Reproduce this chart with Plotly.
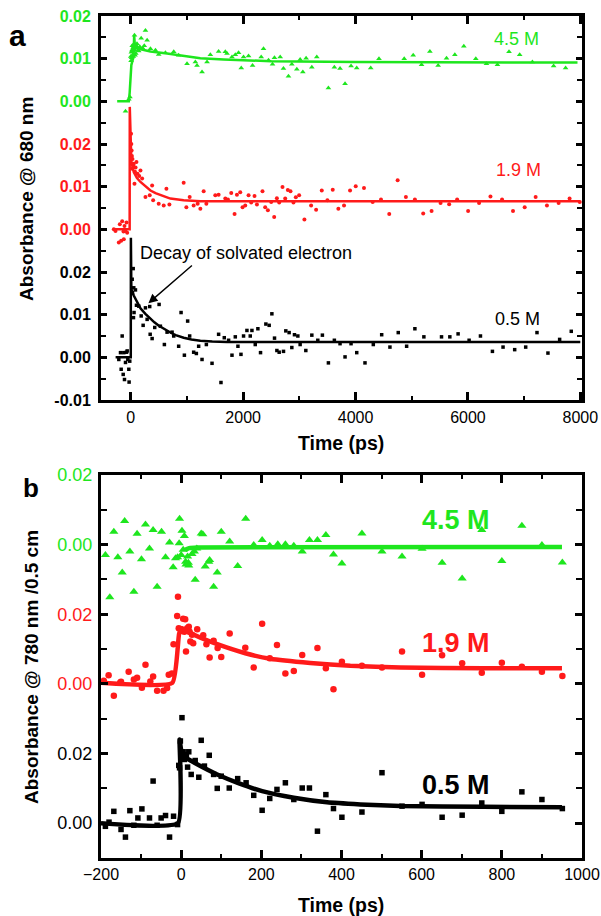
import plotly.graph_objects as go

GREEN = "#1ee61e"
RED = "#ff1a1a"
BLACK = "#000000"

# ---------------- Panel a (680 nm) ----------------
# stacking offsets of the three traces on the shared axis
A_OFF_BLACK, A_OFF_RED, A_OFF_GREEN = 0.0, 0.03, 0.06

a_green_x = [-94, -35, -15, 0, 10, 20, 30, 40, 50, 60, 66, 70, 80, 90, 100, 120, 140, 185, 261, 291,
             350, 439, 497, 616, 764, 852, 1001, 1149, 1179, 1268, 1357, 1416, 1563, 1682, 1712, 1801,
             1860, 1918, 1966, 2007, 2096, 2167, 2321, 2362, 2451, 2522, 2557, 2659, 2717, 2806, 2866,
             2955, 3014, 3062, 3120, 3222, 3310, 3517, 3623, 3724, 3813, 3920, 4021, 4270, 4417, 4866,
             5026, 5175, 5323, 5470, 5619, 5767, 5927, 6140, 6330, 6525, 6731, 6921, 7147, 7525, 7738,
             5, 15, 25, 35, 45, 55, 75, 110, 130, 160, 210, 240]
a_green_y = [-0.0023, 0.0005, 0.0010, 0.0105, 0.0115, 0.0120, 0.0108, 0.0125, 0.0110, 0.0135, 0.0155,
             0.0120, 0.0128, 0.0112, 0.0130, 0.0125, 0.0118, 0.0148, 0.0166, 0.0143, 0.0123, 0.0120,
             0.0110, 0.0114, 0.0116, 0.0108, 0.0088, 0.0092, 0.0084, 0.0069, 0.0092, 0.0109, 0.0117,
             0.0116, 0.0112, 0.0104, 0.0109, 0.0114, 0.0078, 0.0104, 0.0106, 0.0084, 0.0104, 0.0123,
             0.0096, 0.0087, 0.0102, 0.0104, 0.0077, 0.0059, 0.0087, 0.0075, 0.0098, 0.0069, 0.0101,
             0.0080, 0.0104, 0.0031, 0.0080, 0.0077, 0.0041, 0.0083, 0.0078, 0.0078, 0.0100, 0.0100,
             0.0108, 0.0086, 0.0117, 0.0084, 0.0101, 0.0109, 0.0129, 0.0100, 0.0088, 0.0086, 0.0116,
             0.0109, 0.0092, 0.0083, 0.0078,
             0.0095, 0.0102, 0.0130, 0.0118, 0.0105, 0.0128, 0.0108, 0.0135, 0.0120, 0.0128, 0.0125, 0.0130]

a_red_x = [-302, -272, -213, -195, -171, -153, -130, -124, -112, -94, -76, -64,
           5, 10, 15, 20, 25, 30, 40, 53, 66, 75, 85, 101, 120, 150, 172, 202, 261, 337, 380, 398,
           497, 586, 634, 687, 941, 989, 1048, 1119, 1190, 1238, 1297, 1345, 1504, 1563, 1682,
           1729, 1788, 1847, 1889, 1948, 1989, 2037, 2096, 2143, 2202, 2245, 2344, 2392, 2440, 2499,
           2552, 2600, 2641, 2700, 2748, 2795, 2842, 2895, 2937, 2996, 3090, 3209, 3298, 3399, 3499,
           3594, 3694, 3795, 3902, 4003, 4150, 4305, 4453, 4600, 4749, 4896, 5056, 5204, 5353, 5513,
           5666, 5808, 6003, 6198, 6401, 6607, 6802, 7010, 7205, 7406, 7614, 7809, 7990]
a_red_y = [0.0, -0.0004, -0.0031, 0.0012, -0.0027, 0.0019, -0.0005, -0.0023, 0.0008, -0.0004, 0.0016, -0.0008,
           0.0224, 0.0200, 0.0185, 0.0172, 0.0142, 0.0165, 0.0150, 0.0154, 0.0107, 0.0135, 0.0145, 0.0158,
           0.0130, 0.0125, 0.0138, 0.0119, 0.0076, 0.0080, 0.0103, 0.0068, 0.0060, 0.0056, 0.0095, 0.0058,
           0.0109, 0.0052, 0.0076, 0.0056, 0.0060, 0.0048, 0.0089, 0.0060, 0.0080, 0.0081, 0.0072,
           0.0070, 0.0085, 0.0036, 0.0081, 0.0087, 0.0052, 0.0056, 0.0080, 0.0063, 0.0078, 0.0058, 0.0089,
           0.0052, 0.0045, 0.0064, 0.0029, 0.0073, 0.0063, 0.0099, 0.0072, 0.0092, 0.0089, 0.0063, 0.0075,
           0.0080, 0.0023, 0.0056, 0.0046, 0.0091, 0.0068, 0.0093, 0.0048, 0.0056, 0.0091, 0.0101, 0.0097,
           0.0064, 0.0070, 0.0036, 0.0115, 0.0076, 0.0070, 0.0037, 0.0043, 0.0062, 0.0059, 0.0070, 0.0043,
           0.0062, 0.0077, 0.0070, 0.0043, 0.0052, 0.0076, 0.0056, 0.0062, 0.0072, 0.0064]

a_black_x = [-213, -183, -171, -153, -135, -124, -112, -94, -76, -64, -53, -35, -30, -18,
             25, 30, 43, 48, 53, 58, 83, 101, 142, 185, 220, 261, 291, 337, 345, 380, 426, 504, 527,
             598, 646, 735, 764, 852, 895, 954, 1012, 1048, 1119, 1167, 1208, 1268, 1345, 1446, 1563,
             1605, 1664, 1741, 1801, 1860, 1907, 1961, 2007, 2067, 2126, 2156, 2215, 2262, 2309, 2404,
             2463, 2511, 2558, 2600, 2641, 2718, 2759, 2818, 2866, 2913, 2973, 3014, 3115, 3222, 3328,
             3410, 3517, 3623, 3724, 3813, 3920, 4021, 4168, 4316, 4465, 4612, 4760, 4909, 5056, 5216,
             5530, 5678, 5825, 6021, 6223, 6436, 6625, 6832, 7028, 7229, 7424, 7632, 7839]
a_black_y = [-0.0005, 0.0011, -0.0028, 0.0050, -0.0040, 0.0011, -0.0052, -0.0012, 0.0012, 0.0015, -0.0005,
             -0.0028, -0.0058, -0.0009,
             0.0183, 0.0152, 0.0208, 0.0093, 0.0163, 0.0105, 0.0158, 0.0122, 0.0120, 0.0097, 0.0075,
             0.0116, 0.0089, 0.0119, 0.0054, 0.0044, 0.0070, 0.0124, 0.0073, 0.0030, 0.0059, 0.0059,
             0.0050, 0.0026, 0.0105, 0.0005, 0.0085, 0.0050, 0.0012, 0.0009, 0.0026, -0.0005, 0.0030,
             -0.0014, 0.0054, -0.0059, 0.0046, 0.0040, 0.0005, 0.0048, 0.0026, 0.0007, 0.0050, 0.0063,
             0.0050, 0.0063, 0.0030, 0.0067, 0.0011, 0.0078, 0.0075, 0.0102, 0.0045, 0.0016, 0.0012,
             0.0014, 0.0062, 0.0058, 0.0023, 0.0053, 0.0050, 0.0030, 0.0016, 0.0052, 0.0040, 0.0052,
             -0.0013, 0.0040, 0.0032, 0.0001, 0.0032, 0.0011, -0.0013, 0.0030, 0.0053, 0.0024, 0.0058,
             0.0026, 0.0067, 0.0048, 0.0048, 0.0048, 0.0055, 0.0040, 0.0050, 0.0014, 0.0024, 0.0018,
             0.0024, 0.0058, 0.0010, 0.0042, 0.0061]

# fitted curves
a_green_fit_x = [-242, -35, -20, 10, 50, 60, 75, 114, 350, 646, 941, 1238, 1652, 2500, 4000, 7950]
a_green_fit_y = [0, 0, 0.002, 0.0085, 0.0105, 0.0155, 0.0125, 0.0124, 0.0117, 0.0112, 0.0106, 0.0101,
                 0.0098, 0.0094, 0.0092, 0.0091]
a_red_fit_x = [-300, -20, -18, 0, 10, 53, 110, 172, 260, 350, 440, 527, 620, 705, 820, 941, 1238, 8000]
a_red_fit_y = [0, 0, 0.0287, 0.0175, 0.0160, 0.0134, 0.0120, 0.0111, 0.0100, 0.0091, 0.0085, 0.0080,
               0.0076, 0.0072, 0.0070, 0.0068, 0.0066, 0.0066]
a_black_fit_x = [-270, 0, 2, 10, 53, 110, 172, 260, 350, 420, 500, 570, 646, 720, 800, 941, 1080, 1238,
                 1450, 1712, 8000]
a_black_fit_y = [0, 0, 0.028, 0.016, 0.0145, 0.0130, 0.0115, 0.0102, 0.0090, 0.0082, 0.0074, 0.0068,
                 0.0062, 0.0057, 0.0052, 0.0046, 0.0042, 0.0039, 0.0037, 0.0036, 0.0036]

# ---------------- Panel b (780 nm) ----------------
B_OFF_BLACK, B_OFF_RED, B_OFF_GREEN = 0.0, 0.04, 0.08

b_green_x = [-189, -178, -168, -158, -147, -141, -128, -118, -110, -99, -89, -79, -70, -60, -49, -39, -29,
             -20, -14, -9, -5, -4, 0, 2, 5, 8, 11, 12, 16, 18, 19, 27, 33, 35, 39, 50, 54, 60, 69, 71, 81,
             90, 100, 121, 141, 161, 181, 202, 221, 241, 260, 281, 302, 320, 340, 361, 380, 401, 451, 501,
             551, 601, 651, 701, 750, 800, 850, 900, 951]
b_green_y = [-0.0030, -0.0151, 0.0037, -0.0036, -0.0080, 0.0068, -0.0020, -0.0135, 0.0031, -0.0042, 0.0058,
             -0.0011, 0.0042, -0.0121, 0.0037, -0.0036, 0.0006, -0.0065, -0.0039, -0.0036, 0.0004, 0.0074,
             -0.0030, 0.0040, -0.0015, 0.0025, -0.0049, -0.0057, -0.0034, -0.0052, -0.0060, -0.0027,
             -0.0020, -0.0101, -0.0011, 0.0032, 0.0030, -0.0063, -0.0049, -0.0044, -0.0121, -0.0080,
             0.0037, 0.0009, -0.0061, 0.0074, -0.0001, 0.0013, -0.0003, 0.0001, 0.0001, -0.0003, -0.0020,
             0.0013, 0.0013, 0.0028, -0.0028, -0.0054, 0.0032, -0.0020, -0.0034, -0.0012, -0.0052,
             -0.0097, 0.0042, -0.0047, 0.0054, -0.0001, -0.0051]

b_red_x = [-193, -181, -168, -152, -150, -131, -118, -110, -98, -89, -77, -70, -60, -44, -35, -31, -23, -19,
           -10, -8, -6, -2, 2, 5, 8, 10, 12, 15, 19, 21, 23, 27, 30, 40, 55, 63, 71, 81, 91, 100, 121, 160,
           181, 202, 221, 239, 260, 281, 302, 340, 361, 380, 401, 451, 501, 551, 601, 651, 701, 750, 800,
           850, 900, 951]
b_red_y = [0.0009, 0.0025, -0.0034, 0.0004, 0.0006, 0.0035, 0.0013, 0.0018, -0.0011, 0.0055, 0.0007, 0.0021,
           -0.0020, -0.0020, -0.0012, 0.0026, 0.0030, 0.0114, 0.0195, 0.0250, 0.0160, 0.0157, 0.0152, 0.0187,
           0.0150, 0.0186, 0.0093, 0.0160, 0.0164, 0.0150, 0.0122, 0.0141, 0.0117, 0.0157, 0.0140, 0.0114,
           0.0076, 0.0124, 0.0103, 0.0077, 0.0145, 0.0104, 0.0047, 0.0173, 0.0074, 0.0112, 0.0030, 0.0037,
           0.0083, 0.0103, 0.0045, -0.0015, 0.0064, 0.0052, 0.0047, 0.0093, 0.0026, 0.0082, 0.0059, 0.0032,
           0.0061, 0.0049, 0.0035, 0.0023]

b_black_x = [-189, -180, -168, -150, -139, -128, -118, -108, -98, -79, -70, -60, -50, -39, -29, -19, -9, -6,
             -4, -2, 0, 2, 5, 8, 13, 16, 19, 25, 35, 44, 50, 58, 70, 81, 90, 100, 120, 141, 162, 181, 202,
             221, 239, 260, 281, 302, 320, 340, 361, 380, 401, 451, 501, 551, 601, 651, 701, 750, 800, 850,
             900, 951]
b_black_y = [-0.0009, 0.0003, 0.0034, -0.0018, -0.0040, 0.0036, -0.0006, 0.0015, 0.0041, 0.0015, 0.0121,
             -0.0006, 0.0015, 0.0022, -0.0040, 0.0020, -0.0004, 0.0166, 0.0159, 0.0236, 0.0197, 0.0303,
             0.0205, 0.0183, 0.0197, 0.0161, 0.0205, 0.0140, 0.0180, 0.0132, 0.0238, 0.0164, 0.0195, 0.0140,
             0.0100, 0.0135, 0.0101, 0.0128, 0.0116, 0.0080, 0.0037, 0.0071, 0.0097, 0.0116, 0.0068, 0.0101,
             0.0101, -0.0023, 0.0082, 0.0042, 0.0017, 0.0032, 0.0145, 0.0049, 0.0054, 0.0017, 0.0023, 0.0058,
             0.0034, 0.0090, 0.0068, 0.0042]

b_green_fit_x = [10, 20, 40, 950]
b_green_fit_y = [-0.0015, -0.0010, -0.0008, -0.0007]
b_red_fit_x = [-200, -22, -5, 3, 10, 48, 90, 160, 222, 322, 422, 547, 754, 950]
b_red_fit_y = [0.0003, 0.0003, 0.0145, 0.0160, 0.0153, 0.0133, 0.0114, 0.0088, 0.0072, 0.0060, 0.0052,
               0.0047, 0.0045, 0.0045]
b_black_fit_x = [-200, -8, -4, 0, 6, 48, 90, 141, 202, 281, 364, 447, 547, 754, 950]
b_black_fit_y = [0.0, 0.0, 0.024, 0.021, 0.0193, 0.0164, 0.0140, 0.0116, 0.0092, 0.0073, 0.0060, 0.0054,
                 0.0049, 0.0047, 0.0046]

# tick labels
a_tickvals = [-0.01, 0.0, 0.01, 0.02, 0.03, 0.04, 0.05, 0.06, 0.07, 0.08]
a_ticklabels = ["-0.01", "0.00", "0.01", "0.02", "0.00", "0.01", "0.02", "0.00", "0.01", "0.02"]
a_tickcolors = [BLACK] * 4 + [RED] * 3 + [GREEN] * 3
b_tickvals = [0.0, 0.02, 0.04, 0.06, 0.08, 0.10]
b_ticklabels = ["0.00", "0.02", "0.00", "0.02", "0.00", "0.02"]
b_tickcolors = [BLACK, BLACK, RED, RED, GREEN, GREEN]

fig = go.Figure()


def shift(vals, off):
    return [v + off for v in vals]


def add_points(x, y, off, color, symbol, size, xa, ya):
    fig.add_trace(go.Scatter(x=x, y=shift(y, off), mode="markers", xaxis=xa, yaxis=ya,
                             marker=dict(color=color, symbol=symbol, size=size, line=dict(width=0)),
                             showlegend=False, hoverinfo="skip"))


def add_fit(x, y, off, color, width, xa, ya, shape="linear"):
    line = dict(color=color, width=width, shape=shape)
    if shape == "spline":
        line["smoothing"] = 0.4
    fig.add_trace(go.Scatter(x=x, y=shift(y, off), mode="lines", xaxis=xa, yaxis=ya,
                             line=line, showlegend=False, hoverinfo="skip"))


# panel a
add_points(a_green_x, a_green_y, A_OFF_GREEN, GREEN, "triangle-up", 5, "x", "y")
add_points(a_red_x, a_red_y, A_OFF_RED, RED, "circle", 4, "x", "y")
add_points(a_black_x, a_black_y, A_OFF_BLACK, BLACK, "square", 3.5, "x", "y")
add_fit(a_green_fit_x, a_green_fit_y, A_OFF_GREEN, GREEN, 2.5, "x", "y")
add_fit(a_red_fit_x, a_red_fit_y, A_OFF_RED, RED, 2.5, "x", "y")
add_fit(a_black_fit_x, a_black_fit_y, A_OFF_BLACK, BLACK, 2.5, "x", "y")

# panel b
add_points(b_green_x, b_green_y, B_OFF_GREEN, GREEN, "triangle-up", 8, "x2", "y2")
add_points(b_red_x, b_red_y, B_OFF_RED, RED, "circle", 6.5, "x2", "y2")
add_points(b_black_x, b_black_y, B_OFF_BLACK, BLACK, "square", 5.5, "x2", "y2")
add_fit(b_green_fit_x, b_green_fit_y, B_OFF_GREEN, GREEN, 4.5, "x2", "y2", "spline")
add_fit(b_red_fit_x, b_red_fit_y, B_OFF_RED, RED, 4.5, "x2", "y2", "spline")
add_fit(b_black_fit_x, b_black_fit_y, B_OFF_BLACK, BLACK, 4.5, "x2", "y2", "spline")

W, H = 601, 916


def px(v):
    return v / W


def py(v):
    return 1 - v / H


FONT = "Liberation Sans, Arial, sans-serif"
common_axis = dict(showline=True, linecolor="black", linewidth=3, mirror="ticks", ticks="inside",
                   tickcolor="black", showgrid=False, zeroline=False, automargin=False,
                   ticklabeloverflow="allow")

fig.update_layout(
    width=W, height=H, margin=dict(l=0, r=0, t=0, b=0),
    paper_bgcolor="white", plot_bgcolor="white",
    font=dict(family=FONT, color="black"),
    xaxis=dict(domain=[px(101), px(582)], range=[-530, 8030], anchor="y",
               tickmode="linear", tick0=0, dtick=2000, ticklen=8, tickwidth=2.5,
               minor=dict(ticks="inside", dtick=1000, tick0=0, ticklen=4, tickwidth=2, tickcolor="black"),
               tickfont=dict(size=16, family=FONT), ticklabelstandoff=1, **common_axis),
    yaxis=dict(domain=[py(400), py(16)], range=[-0.01, 0.08], anchor="x",
               tickmode="array", tickvals=a_tickvals,
               ticktext=[f"<span style='color:{c}'>{t}</span>" for t, c in zip(a_ticklabels, a_tickcolors)],
               ticklen=6, tickwidth=2.5,
               minor=dict(ticks="inside", tickmode="array",
                          tickvals=[v + 0.005 for v in a_tickvals[:-1]], ticklen=5, tickwidth=2,
                          tickcolor="black"),
               tickfont=dict(size=16, family=FONT, weight="bold"), ticklabelstandoff=4, **common_axis),
    xaxis2=dict(domain=[px(101), px(582)], range=[-200, 1000], anchor="y2",
                tickmode="linear", tick0=0, dtick=200, ticklen=8, tickwidth=2.5,
                minor=dict(ticks="inside", dtick=100, tick0=0, ticklen=4, tickwidth=2, tickcolor="black"),
                tickfont=dict(size=16, family=FONT), ticklabelstandoff=0, **common_axis),
    yaxis2=dict(domain=[py(858), py(475)], range=[-0.01, 0.10], anchor="x2",
                tickmode="array", tickvals=b_tickvals,
                ticktext=[f"<span style='color:{c}'>{t}</span>" for t, c in zip(b_ticklabels, b_tickcolors)],
                ticklen=7, tickwidth=2.5,
                minor=dict(ticks="inside", tickmode="array",
                           tickvals=[-0.01, 0.01, 0.03, 0.05, 0.07, 0.09], ticklen=6, tickwidth=2,
                           tickcolor="black"),
                tickfont=dict(size=18, family=FONT), ticklabelstandoff=2, **common_axis),
)


def note(text, x, y, size, color=BLACK, bold=False, angle=0):
    fig.add_annotation(text=f"<b>{text}</b>" if bold else text, x=px(x), y=py(y), xref="paper", yref="paper",
                       xanchor="center", yanchor="middle", showarrow=False, textangle=angle,
                       font=dict(size=size, color=color, family=FONT))


# panel a texts
note("a", 17, 35, 30, bold=True)
note("Absorbance @ 680 nm", 27, 199, 19, bold=True, angle=-90)
note("Time (ps)", 341, 443, 19.5, bold=True)
note("4.5 M", 516, 39, 18, GREEN)
note("1.9 M", 518, 170, 18, RED)
note("0.5 M", 517, 319, 18, BLACK)
note("Decay of solvated electron", 246, 253, 18, BLACK)
fig.add_annotation(x=314, y=0.0127, xref="x", yref="y", ax=45, ay=-39, axref="pixel", ayref="pixel",
                   text="", showarrow=True, arrowhead=2, arrowsize=1.3, arrowwidth=1.4, arrowcolor="black")

# panel b texts
note("b", 31, 488, 26, bold=True)
note("Absorbance @ 780 nm /0.5 cm", 31, 667, 19, bold=True, angle=-90)
note("Time (ps)", 341, 905, 19.5, bold=True)
note("4.5 M", 456, 520, 27, GREEN, bold=True)
note("1.9 M", 456, 643, 27, RED, bold=True)
note("0.5 M", 456, 785, 27, BLACK, bold=True)

# remove the default 8 px page margin so the 601x916 figure fills the window exactly
fig.write_html("out.html", config={"displayModeBar": False},
               post_script="document.body.style.margin='0';")
